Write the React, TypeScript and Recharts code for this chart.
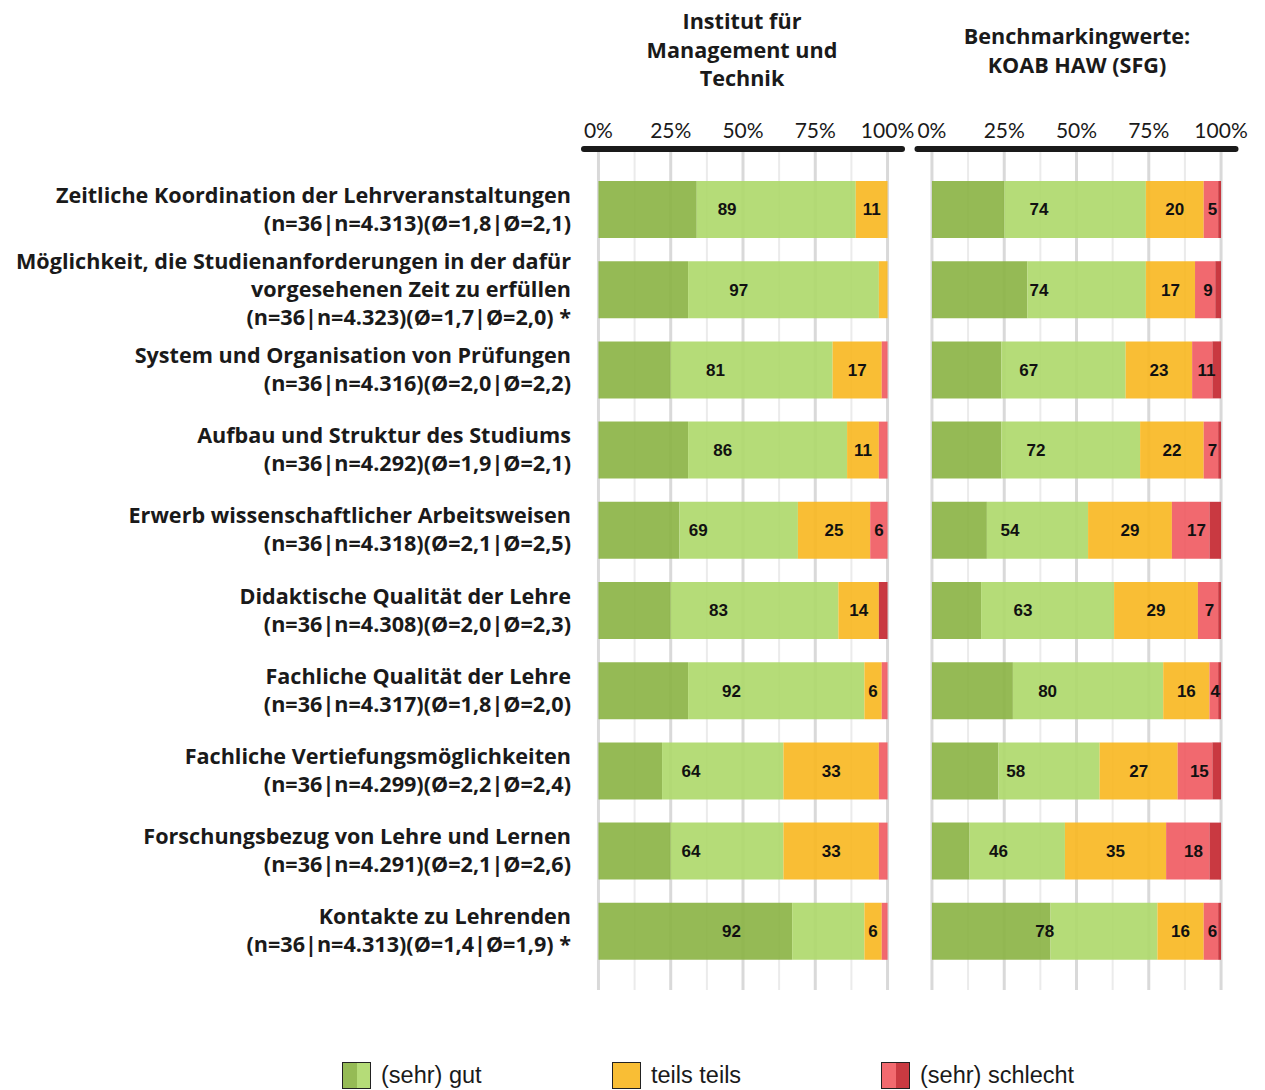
import React from "react";
import { BarChart, Bar, XAxis, YAxis, CartesianGrid, LabelList } from "recharts";

const categories = [
  "Zeitliche Koordination der Lehrveranstaltungen\n(n=36|n=4.313)(Ø=1,8|Ø=2,1)",
  "Möglichkeit, die Studienanforderungen in der dafür\nvorgesehenen Zeit zu erfüllen\n(n=36|n=4.323)(Ø=1,7|Ø=2,0) *",
  "System und Organisation von Prüfungen\n(n=36|n=4.316)(Ø=2,0|Ø=2,2)",
  "Aufbau und Struktur des Studiums\n(n=36|n=4.292)(Ø=1,9|Ø=2,1)",
  "Erwerb wissenschaftlicher Arbeitsweisen\n(n=36|n=4.318)(Ø=2,1|Ø=2,5)",
  "Didaktische Qualität der Lehre\n(n=36|n=4.308)(Ø=2,0|Ø=2,3)",
  "Fachliche Qualität der Lehre\n(n=36|n=4.317)(Ø=1,8|Ø=2,0)",
  "Fachliche Vertiefungsmöglichkeiten\n(n=36|n=4.299)(Ø=2,2|Ø=2,4)",
  "Forschungsbezug von Lehre und Lernen\n(n=36|n=4.291)(Ø=2,1|Ø=2,6)",
  "Kontakte zu Lehrenden\n(n=36|n=4.313)(Ø=1,4|Ø=1,9) *",
];

// Institut für Management und Technik
const sehrGutL = [34, 31, 25, 31, 28, 25, 31, 22, 25, 67];
const gutL = [55, 66, 56, 55, 41, 58, 61, 42, 39, 25];
const teilsL = [11, 3, 17, 11, 25, 14, 6, 33, 33, 6];
const schlechtL = [0, 0, 2, 3, 6, 0, 2, 3, 3, 2];
const sehrSchlechtL = [0, 0, 0, 0, 0, 3, 0, 0, 0, 0];
const gutLabelL = [89, 97, 81, 86, 69, 83, 92, 64, 64, 92];
const teilsLabelL = [11, null, 17, 11, 25, 14, 6, 33, 33, 6];
const schlechtLabelL = [null, null, null, null, 6, null, null, null, null, null];

// Benchmarkingwerte KOAB HAW (SFG)
const sehrGutR = [25, 33, 24, 24, 19, 17, 28, 23, 13, 41];
const gutR = [49, 41, 43, 48, 35, 46, 52, 35, 33, 37];
const teilsR = [20, 17, 23, 22, 29, 29, 16, 27, 35, 16];
const schlechtR = [5, 7, 7, 5, 13, 7, 3, 12, 15, 5];
const sehrSchlechtR = [1, 2, 3, 1, 4, 1, 1, 3, 4, 1];
const gutLabelR = [74, 74, 67, 72, 54, 63, 80, 58, 46, 78];
const teilsLabelR = [20, 17, 23, 22, 29, 29, 16, 27, 35, 16];
const schlechtLabelR = [5, 9, 11, 7, 17, 7, 4, 15, 18, 6];

const xTicks = [0, 25, 50, 75, 100];
const majorGrid = [0, 25, 50, 75, 100];
const minorGrid = [12.5, 37.5, 62.5, 87.5];

const DOMAIN: [number, number] = [-5, 105];
const COLORS = {
  sg: "#89b342",
  g: "#add869",
  t: "#f8b71f",
  s: "#f0595f",
  ss: "#c3242c",
};
const TEXT = "#1a1a1a";
const FONT = "Lato, 'Open Sans', sans-serif";
const BOLD_FONT = "'Open Sans', Lato, sans-serif";

const makeRows = (
  sg: number[], g: number[], t: number[], s: number[], ss: number[],
  gl: (number | null)[], tl: (number | null)[], sl: (number | null)[]
) =>
  categories.map((name, i) => ({
    name,
    sg: sg[i], g: g[i], t: t[i], s: s[i], ss: ss[i],
    gLabel: gl[i], tLabel: tl[i], sLabel: sl[i],
  }));

const rowsL = makeRows(sehrGutL, gutL, teilsL, schlechtL, sehrSchlechtL, gutLabelL, teilsLabelL, schlechtLabelL);
const rowsR = makeRows(sehrGutR, gutR, teilsR, schlechtR, sehrSchlechtR, gutLabelR, teilsLabelR, schlechtLabelR);

const gridGen = (vals: number[]) => (props: any) => {
  const { offset } = props;
  return vals.map(
    (v) => offset.left + (offset.width * (v - DOMAIN[0])) / (DOMAIN[1] - DOMAIN[0])
  );
};

const CatTick = (props: any) => {
  const { x, y, payload } = props;
  const lines = String(payload.value).split("\n");
  const lh = 28;
  const y0 = y - ((lines.length - 1) * lh) / 2;
  return (
    <text textAnchor="end" fontFamily={BOLD_FONT} fontWeight={700} fontSize={21.6} fill={TEXT}>
      {lines.map((l, i) => (
        <tspan key={i} x={x - 5} y={y0 + i * lh} dy="0.35em">
          {l}
        </tspan>
      ))}
    </text>
  );
};

const valueText = (cx: number, cy: number, v: any) => (
  <text
    x={cx}
    y={cy}
    dy="0.35em"
    textAnchor="middle"
    fontFamily="'Liberation Sans', Arial, sans-serif"
    fontWeight={700}
    fontSize={17}
    fill="#111"
  >
    {v}
  </text>
);

// label of the combined (sehr) gut part, drawn on the "gut" bar
const greenLabel = (rows: any[]) => (props: any) => {
  const { x, y, width, height, index, value } = props;
  if (value == null) return null;
  const r = rows[index];
  const ppu = width / r.g;
  const start = x - r.sg * ppu;
  return valueText(start + ((r.sg + r.g) * ppu) / 2, y + height / 2, value);
};

const yellowLabel = (props: any) => {
  const { x, y, width, height, value } = props;
  if (value == null) return null;
  return valueText(x + width / 2, y + height / 2, value);
};

// label of the combined (sehr) schlecht part, drawn on the "schlecht" bar
const redLabel = (rows: any[]) => (props: any) => {
  const { x, y, width, height, index, value } = props;
  if (value == null) return null;
  const r = rows[index];
  const ppu = width / r.s;
  return valueText(x + ((r.s + r.ss) * ppu) / 2, y + height / 2, value);
};

const Panel = ({ rows, width, margin, showCats }: any) => (
  <BarChart
    width={width}
    height={1000}
    data={rows}
    layout="vertical"
    margin={margin}
    barSize={57}
  >
    <CartesianGrid
      horizontal={false}
      stroke="#ebebeb"
      strokeWidth={2}
      verticalCoordinatesGenerator={gridGen(minorGrid)}
    />
    <CartesianGrid
      horizontal={false}
      stroke="#d9d9d9"
      strokeWidth={3}
      verticalCoordinatesGenerator={gridGen(majorGrid)}
    />
    <XAxis
      type="number"
      orientation="top"
      domain={DOMAIN}
      ticks={xTicks}
      interval={0}
      tickFormatter={(v) => `${v}%`}
      height={149}
      tickLine={false}
      tickSize={8}
      tickMargin={3}
      axisLine={{ stroke: TEXT, strokeWidth: 6, strokeLinecap: "round" }}
      tick={{ fontSize: 21, fill: TEXT, fontFamily: FONT }}
    />
    <YAxis
      type="category"
      dataKey="name"
      hide={!showCats}
      width={showCats ? 584 : 0}
      axisLine={false}
      tickLine={false}
      interval={0}
      padding={{ top: 20, bottom: 19 }}
      tick={<CatTick />}
    />
    <Bar dataKey="sg" stackId="a" fill={COLORS.sg} fillOpacity={0.9} isAnimationActive={false} />
    <Bar dataKey="g" stackId="a" fill={COLORS.g} fillOpacity={0.9} isAnimationActive={false}>
      <LabelList dataKey="gLabel" content={greenLabel(rows)} />
    </Bar>
    <Bar dataKey="t" stackId="a" fill={COLORS.t} fillOpacity={0.9} isAnimationActive={false}>
      <LabelList dataKey="tLabel" content={yellowLabel} />
    </Bar>
    <Bar dataKey="s" stackId="a" fill={COLORS.s} fillOpacity={0.9} isAnimationActive={false}>
      <LabelList dataKey="sLabel" content={redLabel(rows)} />
    </Bar>
    <Bar dataKey="ss" stackId="a" fill={COLORS.ss} fillOpacity={0.9} isAnimationActive={false} />
  </BarChart>
);

const titleStyle: React.CSSProperties = {
  position: "absolute",
  width: 320,
  textAlign: "center",
  fontFamily: BOLD_FONT,
  fontWeight: 700,
  fontSize: 21.6,
  lineHeight: "28.5px",
  color: TEXT,
};

const LegendIcon = ({ left, right }: { left: string; right: string }) => (
  <span
    style={{
      display: "inline-flex",
      width: 27,
      height: 25,
      border: "1.5px solid #222",
      marginRight: 10,
    }}
  >
    <span style={{ flex: 1, background: left }} />
    <span style={{ flex: 1, background: right }} />
  </span>
);

const legendItems = [
  { label: "(sehr) gut", a: "#95bb55", b: "#b5dc78", left: 342 },
  { label: "teils teils", a: "#f9be35", b: "#f9be35", left: 612 },
  { label: "(sehr) schlecht", a: "#f26a6f", b: "#c93a41", left: 881 },
];

export default function App() {
  return (
    <div
      style={{
        position: "absolute",
        left: 0,
        top: 0,
        width: 1265,
        height: 1090,
        background: "#fff",
        overflow: "hidden",
      }}
    >
      <div style={{ ...titleStyle, left: 582, top: 7 }}>
        Institut für
        <br />
        Management und
        <br />
        Technik
      </div>
      <div style={{ ...titleStyle, left: 917, top: 22 }}>
        Benchmarkingwerte:
        <br />
        KOAB HAW (SFG)
      </div>
      <div style={{ position: "absolute", left: 905, top: 0 }}>
        <Panel rows={rowsR} width={360} margin={{ top: 0, right: 29.5, bottom: 10, left: 12.5 }} showCats={false} />
      </div>
      <div style={{ position: "absolute", left: 0, top: 0 }}>
        <Panel rows={rowsL} width={918} margin={{ top: 0, right: 16, bottom: 10, left: 0 }} showCats />
      </div>
      {legendItems.map((it) => (
        <div
          key={it.label}
          style={{
            position: "absolute",
            left: it.left,
            top: 1062,
            display: "flex",
            alignItems: "center",
            fontFamily: "'Liberation Sans', Arial, sans-serif",
            fontSize: 23.5,
            color: TEXT,
          }}
        >
          <LegendIcon left={it.a} right={it.b} />
          {it.label}
        </div>
      ))}
    </div>
  );
}
